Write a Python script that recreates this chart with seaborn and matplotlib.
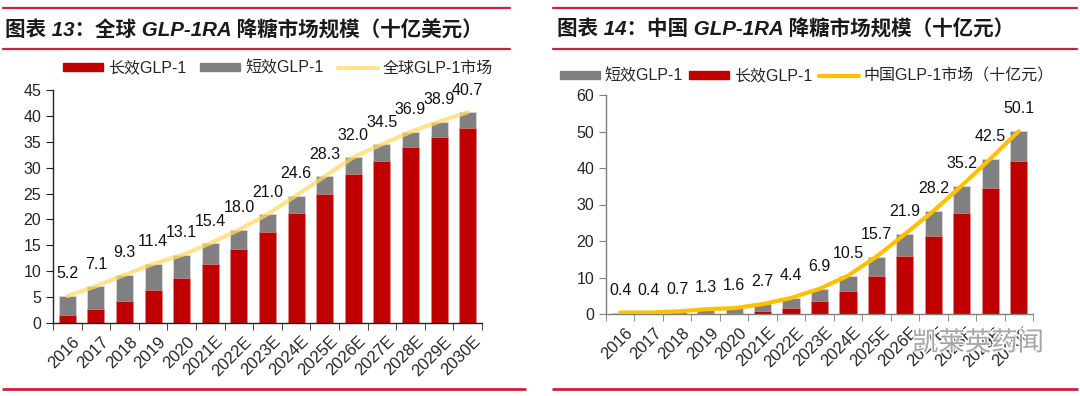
import matplotlib
matplotlib.use('Agg')
import matplotlib.pyplot as plt
import matplotlib.patheffects as pe
import matplotlib.transforms as mtransforms
from matplotlib.lines import Line2D
from matplotlib.patches import Patch
import numpy as np
import pandas as pd
import seaborn as sns

sns.set_style('white')
plt.rcParams['font.family'] = ['Liberation Sans', 'Noto Sans CJK SC', 'DejaVu Sans']

years = ['2016', '2017', '2018', '2019', '2020', '2021E', '2022E', '2023E',
         '2024E', '2025E', '2026E', '2027E', '2028E', '2029E', '2030E']

# global market (bn USD)
global_total = [5.2, 7.1, 9.3, 11.4, 13.1, 15.4, 18.0, 21.0, 24.6, 28.3, 32.0, 34.5, 36.9, 38.9, 40.7]
global_long = [1.6, 2.7, 4.2, 6.4, 8.6, 11.3, 14.3, 17.6, 21.3, 25.0, 28.7, 31.3, 33.9, 35.9, 37.7]

# china market (bn CNY)
china_total = [0.4, 0.4, 0.7, 1.3, 1.6, 2.7, 4.4, 6.9, 10.5, 15.7, 21.9, 28.2, 35.2, 42.5, 50.1]
china_long = [0.1, 0.1, 0.2, 0.3, 0.4, 0.8, 1.7, 3.5, 6.3, 10.5, 15.9, 21.4, 27.6, 34.5, 41.8]

RED = '#C00000'
GRAY = '#808080'
RULE = '#C8203F'

W, H = 1080, 396
fig = plt.figure(figsize=(W / 100, H / 100), dpi=100)


def px_axes(x0, x1, y_top, y_bot):
    return fig.add_axes([x0 / W, 1 - y_bot / H, (x1 - x0) / W, (y_bot - y_top) / H])


def hline(x0, x1, y, lw=1.6):
    fig.add_artist(Line2D([x0 / W, x1 / W], [1 - y / H, 1 - y / H], color=RULE, lw=lw,
                          transform=fig.transFigure))


def draw_panel(ax, total, long_, line_color, line_alpha, ymax, ystep, axis_color):
    df = pd.DataFrame({'year': years, 'total': total, 'long': long_})
    sns.barplot(data=df, x='year', y='total', color=GRAY, width=0.6, saturation=1,
                edgecolor='#d9d9d9', linewidth=0.6, ax=ax)
    sns.barplot(data=df, x='year', y='long', color=RED, width=0.6, saturation=1,
                edgecolor='#e6a0a0', linewidth=0.4, ax=ax)
    ax.plot(range(len(years)), total, color=line_color, lw=3, alpha=line_alpha,
            solid_capstyle='round', zorder=5)
    for i, v in enumerate(total):
        ax.annotate(f'{v:.1f}', (i, v), xytext=(0, 16), textcoords='offset points',
                    ha='center', va='center', fontsize=11.5, color='#111111', zorder=6)
    ax.set_xlim(-0.5, len(years) - 0.5)
    ax.set_ylim(0, ymax)
    ax.set_yticks(np.arange(0, ymax + 0.1, ystep))
    ax.set_xlabel('')
    ax.set_ylabel('')
    ax.set_xticks(np.arange(-0.5, len(years), 1), minor=True)
    ax.tick_params(axis='x', which='major', length=0, labelsize=12, pad=2)
    ax.tick_params(axis='x', which='minor', length=5, direction='out', color=axis_color, bottom=True)
    ax.tick_params(axis='y', length=5, direction='out', color=axis_color, labelsize=11.5, left=True)
    shift = mtransforms.ScaledTranslation(5 / 100, -8 / 100, fig.dpi_scale_trans)
    for lab in ax.get_xticklabels():
        lab.set_rotation(45)
        lab.set_ha('right')
        lab.set_rotation_mode('anchor')
        lab.set_transform(lab.get_transform() + shift)
    for s in ['top', 'right']:
        ax.spines[s].set_visible(False)
    for s in ['left', 'bottom']:
        ax.spines[s].set_color(axis_color)
        ax.spines[s].set_linewidth(1)


leg_kw = dict(loc='center left', ncol=3, frameon=False, fontsize=11.5, handlelength=2.5,
              handleheight=0.45, handletextpad=0.3, borderaxespad=0, borderpad=0)

# left panel
hline(3, 510, 8)
hline(3, 510, 49)
hline(3, 525, 389, lw=2)
fig.text(5 / W, 1 - 30 / H, '图表 13：全球 GLP-1RA 降糖市场规模（十亿美元）', fontsize=14.8,
         fontweight='bold', style='italic', color='#1a1a1a', va='center', ha='left')
ax1 = px_axes(53, 482, 90, 323)
draw_panel(ax1, global_total, global_long, '#FFD966', 0.75, 45, 5, '#222222')
fig.legend(handles=[Patch(color=RED, label='长效GLP-1'), Patch(color=GRAY, label='短效GLP-1'),
                    Line2D([], [], color='#FFD966', lw=3, alpha=0.75, label='全球GLP-1市场')],
           bbox_to_anchor=(63 / W, 1 - 68 / H), columnspacing=0.9, **leg_kw)

# right panel
hline(553, 1077, 8)
hline(553, 1077, 49)
hline(553, 1077, 389, lw=2)
fig.text(557 / W, 1 - 30 / H, '图表 14：中国 GLP-1RA 降糖市场规模（十亿元）', fontsize=14.8,
         fontweight='bold', style='italic', color='#1a1a1a', va='center', ha='left')
ax2 = px_axes(606, 1033, 95, 314)
draw_panel(ax2, china_total, china_long, '#FFC000', 1.0, 60, 10, '#7f7f7f')
fig.legend(handles=[Patch(color=GRAY, label='短效GLP-1'), Patch(color=RED, label='长效GLP-1'),
                    Line2D([], [], color='#FFC000', lw=3, label='中国GLP-1市场（十亿元）')],
           bbox_to_anchor=(560 / W, 1 - 76 / H), columnspacing=0.4, **leg_kw)

# watermark
fig.text(978 / W, 1 - 343 / H, '凯莱英药闻', fontsize=19, color='#9a9a9a', alpha=0.85,
         ha='center', va='center', zorder=10,
         path_effects=[pe.withStroke(linewidth=2, foreground='white')])

fig.savefig('out.png', dpi=100)
